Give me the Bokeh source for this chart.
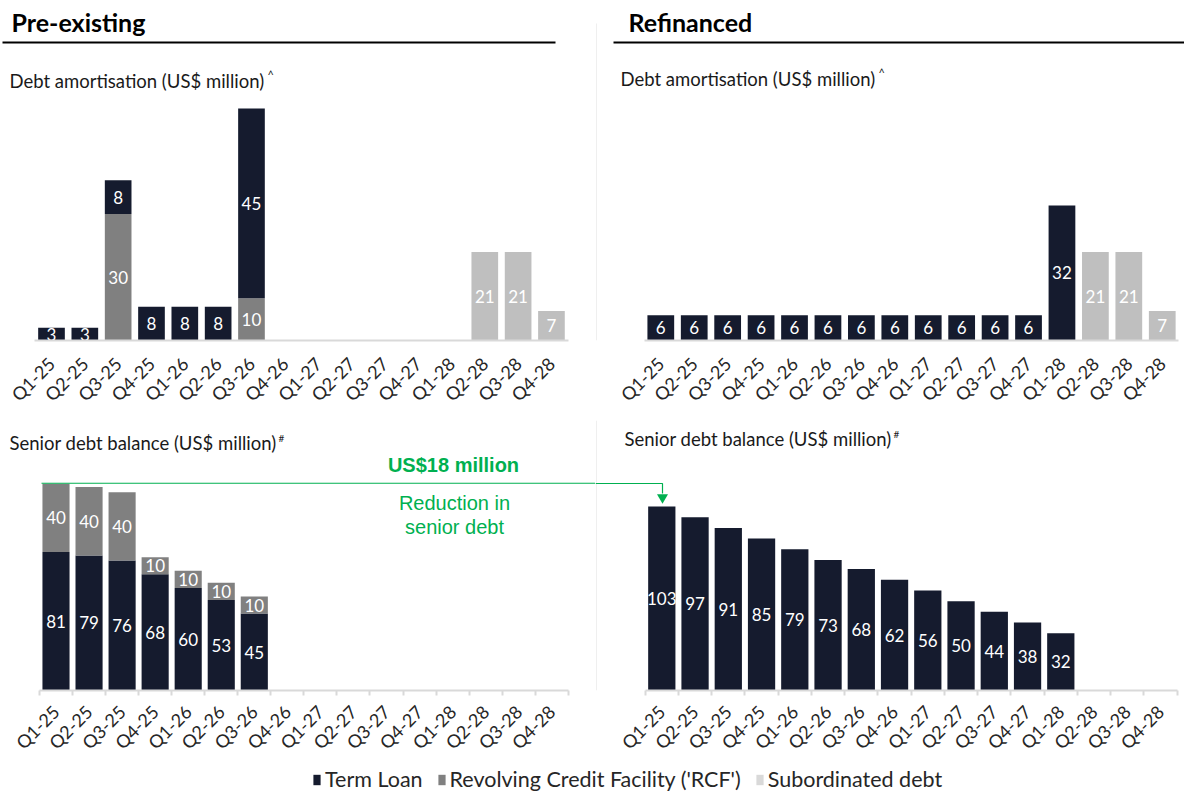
import math
import numpy as np
from bokeh.plotting import figure
from bokeh.models import Range1d, LinearAxis, FixedTicker, ColumnDataSource, Legend, LegendItem
from bokeh.layouts import column, row
from bokeh.core.properties import value
from bokeh.embed import file_html
from bokeh.resources import INLINE

# ---------------- data ----------------
quarters = ["Q1-25", "Q2-25", "Q3-25", "Q4-25", "Q1-26", "Q2-26", "Q3-26", "Q4-26",
            "Q1-27", "Q2-27", "Q3-27", "Q4-27", "Q1-28", "Q2-28", "Q3-28", "Q4-28"]

pre_amort_term = [3, 3, 8, 8, 8, 8, 45, 0, 0, 0, 0, 0, 0, 0, 0, 0]
pre_amort_rcf = [0, 0, 30, 0, 0, 0, 10, 0, 0, 0, 0, 0, 0, 0, 0, 0]
pre_amort_sub = [0, 0, 0, 0, 0, 0, 0, 0, 0, 0, 0, 0, 0, 21, 21, 7]

ref_amort_term = [6, 6, 6, 6, 6, 6, 6, 6, 6, 6, 6, 6, 32, 0, 0, 0]
ref_amort_sub = [0, 0, 0, 0, 0, 0, 0, 0, 0, 0, 0, 0, 0, 21, 21, 7]

pre_bal_term = [81, 79, 76, 68, 60, 53, 45, 0, 0, 0, 0, 0, 0, 0, 0, 0]
pre_bal_rcf = [40, 40, 40, 10, 10, 10, 10, 0, 0, 0, 0, 0, 0, 0, 0, 0]

ref_bal_term = [103, 97, 91, 85, 79, 73, 68, 62, 56, 50, 44, 38, 32, 0, 0, 0]

series_names = ["Term Loan", "Revolving Credit Facility ('RCF')", "Subordinated debt"]
NAVY, GREY, LIGHT = "#151B2E", "#808080", "#BFBFBF"
GREEN = "#00B050"

# ---------------- helpers ----------------
def chart(left, top, width, height, base, c0, step, scale, stacks, bar_w,
          boundary_ticks, standoff):
    frame_h = base - top
    x0 = -(c0 - left) / step
    x1 = (width - (c0 - left)) / step
    p = figure(width=width, height=height, x_range=Range1d(x0, x1),
               y_range=Range1d(0, frame_h / scale),
               x_axis_type=None, y_axis_type=None, output_backend="svg",
               toolbar_location=None, min_border_left=0, min_border_right=0,
               min_border_top=0, min_border_bottom=height - frame_h,
               outline_line_color=None)
    p.extra_x_ranges = {"px": Range1d(left, left + width)}
    p.extra_y_ranges = {"px": Range1d(base, top)}
    idx = np.arange(len(quarters))
    bottom = np.zeros(len(quarters))
    for vals, col in stacks:
        vals = np.array(vals, dtype=float)
        m = vals > 0
        src = ColumnDataSource(dict(
            x=idx[m], bottom=bottom[m], top=(bottom + vals)[m],
            mid=(bottom + vals / 2)[m],
            lab=[str(int(v)) for v in vals[m]]))
        p.vbar(x="x", bottom="bottom", top="top", width=bar_w, source=src,
               fill_color=col, line_color=None)
        p.text(x="x", y="mid", text="lab", source=src, text_align="center",
               text_baseline="middle", text_color="white",
               text_font=value("Lato"), text_font_size="17px")
        bottom = bottom + vals
    ax = LinearAxis(
        ticker=FixedTicker(ticks=list(range(len(quarters))),
                           minor_ticks=[i - 0.5 for i in range(len(quarters) + 1)]),
        major_label_overrides={i: q for i, q in enumerate(quarters)},
        bounds=(-0.5, len(quarters) - 0.5),
        axis_line_color="#D9D9D9", axis_line_width=2,
        major_tick_line_color=None, major_tick_out=0, major_tick_in=0,
        minor_tick_line_color="#D9D9D9" if boundary_ticks else None,
        minor_tick_in=0, minor_tick_out=5, minor_tick_line_width=2,
        major_label_orientation=math.pi / 4, major_label_text_font="Lato",
        major_label_text_font_size="18px", major_label_text_color="#262626",
        major_label_standoff=standoff)
    p.add_layout(ax, "below")
    return p


def ptext(p, x, y, s, size, color="#1A1A1A", font="Lato", style="normal",
          align="left", baseline="middle"):
    p.text(x=[x], y=[y], text=[s], x_range_name="px", y_range_name="px",
           text_font=value(font), text_font_size=size, text_font_style=style,
           text_color=color, text_align=align, text_baseline=baseline)


def pline(p, xs, ys, color, w):
    p.line(x=xs, y=ys, x_range_name="px", y_range_name="px",
           line_color=color, line_width=w)


# ---------------- charts ----------------
tl = chart(0, 0, 595, 420, 340, 51, 33.33, 4.22,
           [(pre_amort_rcf, GREY), (pre_amort_term, NAVY), (pre_amort_sub, LIGHT)],
           0.8, False, 15)
tr = chart(595, 0, 589, 420, 340, 660.3, 33.43, 4.22,
           [(ref_amort_term, NAVY), (ref_amort_sub, LIGHT)], 0.8, False, 15)
bl = chart(0, 420, 595, 346, 691, 55.5, 33.05, 1.716,
           [(pre_bal_term, NAVY), (pre_bal_rcf, GREY)], 0.82, True, 13)
br = chart(595, 420, 589, 346, 690, 661.3, 33.25, 1.787,
           [(ref_bal_term, NAVY)], 0.82, True, 13)

# headers
ptext(tl, 11, 21, "Pre-existing", "25px", color="#000000", style="bold")
pline(tl, [2, 555], [42, 42], "#000000", 2)
ptext(tr, 628, 21, "Refinanced", "25px", color="#000000", style="bold")
pline(tr, [613, 1184], [42, 42], "#000000", 2)
pline(tr, [596, 596], [23, 340], "#EFEFEF", 1)
pline(br, [596, 596], [420, 690], "#EFEFEF", 1)

# subtitles
ptext(tl, 9, 80, "Debt amortisation (US$ million)", "18.5px")
ptext(tl, 267, 74, "^", "11px")
ptext(tr, 620, 78, "Debt amortisation (US$ million)", "18.5px")
ptext(tr, 878, 72, "^", "11px")
ptext(bl, 9, 443, "Senior debt balance (US$ million)", "18.5px")
ptext(bl, 278, 438, "#", "10px")
ptext(br, 624, 438, "Senior debt balance (US$ million)", "18.5px")
ptext(br, 893, 433, "#", "10px")

# green callout
ptext(bl, 453, 465, "US$18 million", "20px", color=GREEN, font="Liberation Sans", style="bold", align="center")
ptext(bl, 454, 503, "Reduction in", "20px", color=GREEN, font="Liberation Sans", align="center")
ptext(bl, 454, 527, "senior debt", "20px", color=GREEN, font="Liberation Sans", align="center")
pline(bl, [41, 595], [483, 483], GREEN, 1.2)
pline(br, [595, 662, 662], [483, 483, 493], GREEN, 1.2)
br.scatter(x=[662], y=[497], marker="inverted_triangle", size=11, x_range_name="px",
           y_range_name="px", fill_color=GREEN, line_color=None)

# legend (swatch renderers sit outside the visible range)
leg = figure(width=1184, height=28, x_range=Range1d(0, 1), y_range=Range1d(0, 1),
             x_axis_type=None, y_axis_type=None, output_backend="svg",
             toolbar_location=None, min_border=0, outline_line_color=None)
items = []
for name, col in zip(series_names, [NAVY, GREY, "#D9D9D9"]):
    r = leg.vbar(x=[5], bottom=[5], top=[6], width=0.1, fill_color=col, line_color=None)
    items.append(LegendItem(label=name, renderers=[r]))
legend = Legend(items=items, orientation="horizontal", location=(312, 2),
                label_text_font="Lato", label_text_font_size="21.5px",
                label_text_color="#262626", glyph_width=9, glyph_height=13,
                label_height=22, label_standoff=4, spacing=14, padding=0, margin=0,
                border_line_color=None, background_fill_alpha=0)
leg.add_layout(legend, "center")

layout = column(row(tl, tr), row(bl, br), leg)
open("out.html", "w").write(file_html(layout, INLINE))
